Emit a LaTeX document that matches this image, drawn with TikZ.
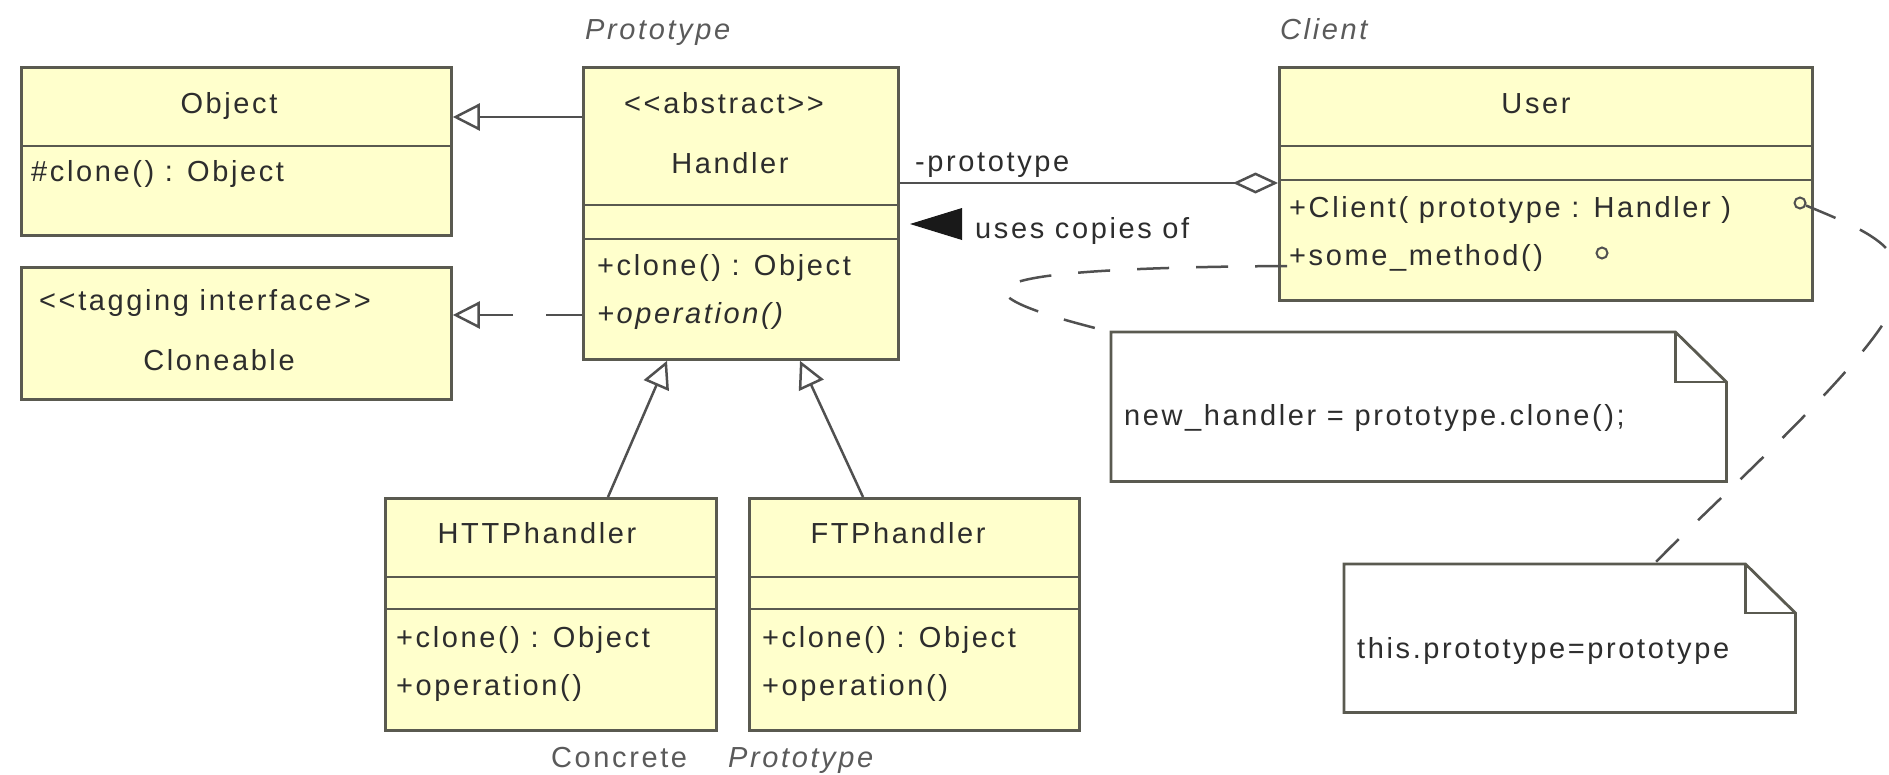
\documentclass[tikz,border=0pt]{standalone}
\usepackage{fontspec}
\newfontfamily\umlfont{Liberation Sans}[LetterSpace=9]
\usetikzlibrary{arrows.meta,calc}
\definecolor{boxfill}{RGB}{255,255,204}
\definecolor{boxline}{RGB}{90,90,80}
\definecolor{connc}{RGB}{80,80,80}
\definecolor{txtc}{RGB}{45,45,45}
\definecolor{lblc}{RGB}{90,90,90}
\newcommand\umlsize{\fontsize{29}{34}\selectfont}
\begin{document}
\begin{tikzpicture}[x=1pt,y=-1pt,
  umlbox/.style={rectangle, draw=boxline, fill=boxfill, line width=2.8pt, inner sep=0pt, anchor=north west},
  notebox/.style={rectangle, inner sep=0pt, anchor=north west},
  noteline/.style={draw=boxline, line width=2.8pt, line join=miter, fill=white},
  divider/.style={draw=boxline, line width=2.8pt},
  txt/.style={anchor=base west, inner sep=0pt, text=txtc, font=\umlfont\umlsize},
  ctxt/.style={txt, anchor=base},
  itxt/.style={txt, font=\umlfont\umlsize\itshape},
  lbl/.style={txt, text=lblc, font=\umlfont\umlsize\itshape},
  plainlbl/.style={txt, text=lblc},
  connline/.style={draw=connc, line width=2.5pt},
  gen/.style={connline, -{Triangle[open, length=27pt, width=27pt, fill=white]}},
  realize/.style={gen, dash pattern=on 36pt off 33pt},
  agg/.style={connline, -{Diamond[open, length=45pt, width=21pt, fill=white]}},
  dashline/.style={draw=connc, line width=2.5pt, dash pattern=on 32pt off 27pt},
  anchorpt/.style={circle, draw=connc, line width=2pt, fill=boxfill, inner sep=0pt, minimum size=11pt},
]
\useasboundingbox (0,0) rectangle (1889,774);

% ---------- stereotype labels ----------
\node[lbl] (lblproto) at (585,39) {Prototype};
\node[lbl] (lblclient) at (1280,39) {Client};
\node[plainlbl] (lblconcrete) at (551,767) {Concrete};
\node[lbl] (lblproto2) at (728,767) {Prototype};

% ---------- Object ----------
\node[umlbox, minimum width=430pt, minimum height=168pt] (object) at (20,66) {};
\draw[divider] (object.west |- 0,146) -- (object.east |- 0,146);
\node[ctxt] (objname) at (229,113) {Object};
\node[txt] (objop) at (31,181) {\#clone() : Object};

% ---------- Cloneable ----------
\node[umlbox, minimum width=430pt, minimum height=132pt] (cloneable) at (20,266) {};
\node[txt] (clst) at (39,310) {<<tagging interface>>};
\node[ctxt] (clname) at (219,370) {Cloneable};

% ---------- Handler ----------
\node[umlbox, minimum width=315pt, minimum height=292pt] (handler) at (582,66) {};
\draw[divider] (handler.west |- 0,205) -- (handler.east |- 0,205);
\draw[divider] (handler.west |- 0,239) -- (handler.east |- 0,239);
\node[ctxt] (hst) at (724,113) {<<abstract>>};
\node[ctxt] (hname) at (730,173) {Handler};
\node[txt] (hop1) at (597,275) {+clone() : Object};
\node[itxt] (hop2) at (597,323) {+operation()};

% ---------- User ----------
\node[umlbox, minimum width=533pt, minimum height=233pt] (user) at (1278,66) {};
\draw[divider] (user.west |- 0,146) -- (user.east |- 0,146);
\draw[divider] (user.west |- 0,180) -- (user.east |- 0,180);
\node[ctxt] (uname) at (1536,113) {User};
\node[txt] (uop1) at (1289,217) {+Client( prototype : Handler )};
\node[txt] (uop2) at (1289,265) {+some\_method()};
\node[anchorpt] (c1) at (1800,203) {};
\node[anchorpt] (c2) at (1602,253) {};

% ---------- HTTPhandler ----------
\node[umlbox, minimum width=331pt, minimum height=232pt] (http) at (384,497) {};
\draw[divider] (http.west |- 0,577) -- (http.east |- 0,577);
\draw[divider] (http.west |- 0,609) -- (http.east |- 0,609);
\node[ctxt] (httpname) at (537,543) {HTTPhandler};
\node[txt] (httpop1) at (396,647) {+clone() : Object};
\node[txt] (httpop2) at (396,695) {+operation()};

% ---------- FTPhandler ----------
\node[umlbox, minimum width=330pt, minimum height=232pt] (ftp) at (748,497) {};
\draw[divider] (ftp.west |- 0,577) -- (ftp.east |- 0,577);
\draw[divider] (ftp.west |- 0,609) -- (ftp.east |- 0,609);
\node[ctxt] (ftpname) at (898,543) {FTPhandler};
\node[txt] (ftpop1) at (762,647) {+clone() : Object};
\node[txt] (ftpop2) at (762,695) {+operation()};

% ---------- notes ----------
\node[notebox, minimum width=615pt, minimum height=149pt] (note1) at (1111,332) {};
\node[notebox, minimum width=451pt, minimum height=148pt] (note2) at (1344,564) {};

% ---------- dashed note links ----------
\draw[dashline] ($(user.west |- 0,266)+(9,0)$) .. controls (960,268) and (940,290) .. (note1.north west);
\draw[dashline] (c1) .. controls (1865,230) and (1902,245) .. (1900,285)
                     .. controls (1898,340) and (1720,495) .. ($(note2.north west)+(310,0)$);

\draw[noteline] (note1.north west) -- ($(note1.north east)+(-51,0)$) -- ($(note1.north east)+(0,50)$)
   -- (note1.south east) -- (note1.south west) -- cycle;
\draw[noteline, fill=none] ($(note1.north east)+(-51,0)$) -- ++(0,50) -- ($(note1.north east)+(0,50)$);
\node[txt] (note1txt) at (1124,425) {new\_handler = prototype.clone();};

\draw[noteline] (note2.north west) -- ($(note2.north east)+(-50,0)$) -- ($(note2.north east)+(0,49)$)
   -- (note2.south east) -- (note2.south west) -- cycle;
\draw[noteline, fill=none] ($(note2.north east)+(-50,0)$) -- ++(0,49) -- ($(note2.north east)+(0,49)$);
\node[txt] (note2txt) at (1357,658) {this.prototype=prototype};

% ---------- connectors ----------
\draw[gen] (handler.west |- 0,117) -- (object.east |- 0,117);
\draw[realize] (handler.west |- 0,315) -- (cloneable.east |- 0,315);
\draw[gen] ($(http.north west)+(224,0)$) -- ($(handler.south west)+(85,0)$);
\draw[gen] ($(ftp.north west)+(115,0)$) -- ($(handler.south west)+(218,0)$);
\draw[agg] (handler.east |- 0,183) -- (user.west |- 0,183);
\node[txt] (assoclbl) at (915,171) {-prototype};

% ---------- "uses copies of" ----------
\fill[black!90] (910,224) -- (962,208) -- (962,240) -- cycle;
\node[txt] (useslbl) at (975,238) {uses copies of};
\end{tikzpicture}
\end{document}
